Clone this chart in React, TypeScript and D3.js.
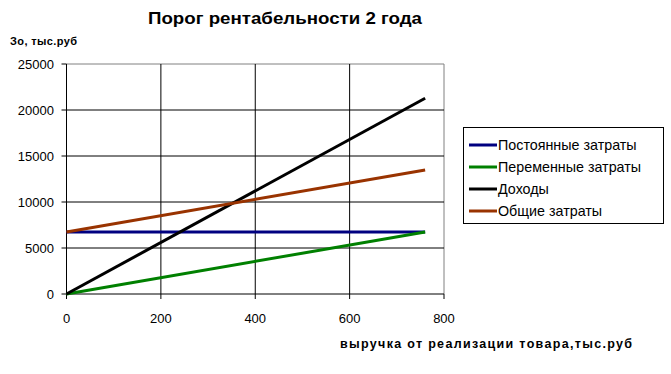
import React from "react";
import * as d3 from "d3";

const title = "Порог рентабельности 2 года";
const yTitle = "Зо, тыс.руб";
const xTitle = "выручка от реализации товара,тыс.руб";
const xTicks = [0, 200, 400, 600, 800];
const yTicks = [0, 5000, 10000, 15000, 20000, 25000];
const xValues = [0, 760];
const seriesNames = ["Постоянные затраты", "Переменные затраты", "Доходы", "Общие затраты"];
const fixedCosts = [6740, 6740];
const variableCosts = [0, 6740];
const revenue = [0, 21280];
const totalCosts = [6740, 13480];
const seriesColors = ["#000080", "#008000", "#000000", "#993300"];

export default function App() {
  const W = 671, H = 374;
  const x = d3.scaleLinear().domain([0, 800]).range([66.5, 444]);
  const y = d3.scaleLinear().domain([0, 25000]).range([294, 64]);
  const data = [fixedCosts, variableCosts, revenue, totalCosts];
  const line = d3.line<[number, number]>().x(d => x(d[0])).y(d => y(d[1]));
  const font = "'Liberation Sans', Arial, sans-serif";
  return (
    <svg width={W} height={H} style={{ position: "absolute", left: 0, top: 0, background: "#fff" }} fontFamily={font}>
      <rect width={W} height={H} fill="#fff" />
      <text x={285} y={24} textAnchor="middle" fontSize={17} fontWeight="bold" textLength={274} lengthAdjust="spacingAndGlyphs">{title}</text>
      <text x={10} y={45} fontSize={11} fontWeight="bold" textLength={67} lengthAdjust="spacing">{yTitle}</text>
      {/* plot border */}
      <line x1={x(0)} x2={x(800)} y1={y(25000)} y2={y(25000)} stroke="#808080" />
      <line x1={x(800)} x2={x(800)} y1={y(25000)} y2={y(0)} stroke="#808080" />
      {yTicks.filter(t => t > 0 && t < 25000).map(t => (
        <line key={"gy" + t} x1={x(0)} x2={x(800)} y1={y(t)} y2={y(t)} stroke="#000" />
      ))}
      {xTicks.filter(t => t > 0 && t < 800).map(t => (
        <line key={"gx" + t} x1={x(t)} x2={x(t)} y1={y(0)} y2={y(25000)} stroke="#000" />
      ))}
      {/* axes */}
      <line x1={x(0)} x2={x(0)} y1={y(0)} y2={y(25000)} stroke="#000" />
      <line x1={x(0)} x2={x(800)} y1={y(0)} y2={y(0)} stroke="#000" />
      {yTicks.map(t => (
        <g key={"yt" + t}>
          <line x1={x(0) - 5} x2={x(0)} y1={y(t)} y2={y(t)} stroke="#000" />
          <text x={54} y={y(t) + 4.5} textAnchor="end" fontSize={13}>{t}</text>
        </g>
      ))}
      {xTicks.map(t => (
        <g key={"xt" + t}>
          <line x1={x(t)} x2={x(t)} y1={y(0)} y2={y(0) + 5} stroke="#000" />
          <text x={x(t)} y={323} textAnchor="middle" fontSize={13}>{t}</text>
        </g>
      ))}
      {data.map((vals, i) => (
        <path key={"s" + i} d={line(xValues.map((xv, j) => [xv, vals[j]]) as [number, number][]) || ""} fill="none" stroke={seriesColors[i]} strokeWidth={3} />
      ))}
      <text x={340} y={348} fontSize={12.5} fontWeight="bold" textLength={292} lengthAdjust="spacing">{xTitle}</text>
      {/* legend */}
      <rect x={463.5} y={127.5} width={200} height={96} fill="#fff" stroke="#000" />
      {seriesNames.map((n, i) => (
        <g key={"lg" + i}>
          <line x1={469} x2={497} y1={145 + i * 22} y2={145 + i * 22} stroke={seriesColors[i]} strokeWidth={3} />
          <text x={498} y={150 + i * 22} fontSize={14.3}>{n}</text>
        </g>
      ))}
    </svg>
  );
}
